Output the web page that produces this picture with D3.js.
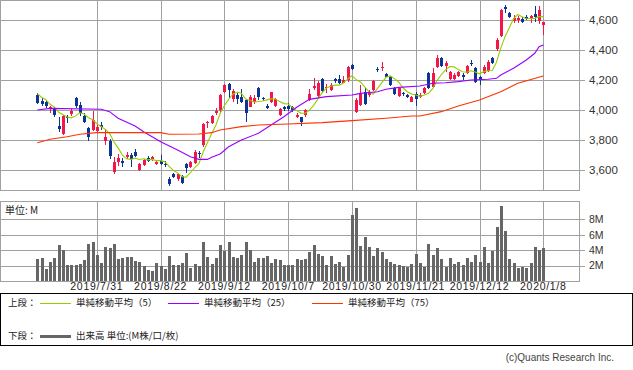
<!DOCTYPE html>
<html><head><meta charset="utf-8">
<script src="https://cdn.jsdelivr.net/npm/d3@7"></script>
<style>body{margin:0;background:#fff}svg{display:block}</style>
</head><body><svg id="c" width="633" height="370"></svg>
<script>
// ---- data ----
const dates = ["2019/7/10","2019/7/11","2019/7/12","2019/7/16","2019/7/17","2019/7/18","2019/7/19","2019/7/22","2019/7/23","2019/7/24","2019/7/25","2019/7/26","2019/7/29","2019/7/30","2019/7/31",
"2019/8/1","2019/8/2","2019/8/5","2019/8/6","2019/8/7","2019/8/8","2019/8/9","2019/8/13","2019/8/14","2019/8/15","2019/8/16","2019/8/19","2019/8/20","2019/8/21","2019/8/22",
"2019/8/23","2019/8/26","2019/8/27","2019/8/28","2019/8/29","2019/8/30","2019/9/2","2019/9/3","2019/9/4","2019/9/5","2019/9/6","2019/9/9","2019/9/10","2019/9/11","2019/9/12",
"2019/9/13","2019/9/17","2019/9/18","2019/9/19","2019/9/20","2019/9/24","2019/9/25","2019/9/26","2019/9/27","2019/9/30","2019/10/1","2019/10/2","2019/10/3","2019/10/4","2019/10/7",
"2019/10/8","2019/10/9","2019/10/10","2019/10/11","2019/10/15","2019/10/16","2019/10/17","2019/10/18","2019/10/21","2019/10/23","2019/10/24","2019/10/25","2019/10/28","2019/10/29","2019/10/30",
"2019/10/31","2019/11/1","2019/11/5","2019/11/6","2019/11/7","2019/11/8","2019/11/11","2019/11/12","2019/11/13","2019/11/14","2019/11/15","2019/11/18","2019/11/19","2019/11/20","2019/11/21",
"2019/11/22","2019/11/25","2019/11/26","2019/11/27","2019/11/28","2019/11/29","2019/12/2","2019/12/3","2019/12/4","2019/12/5","2019/12/6","2019/12/9","2019/12/10","2019/12/11","2019/12/12",
"2019/12/13","2019/12/16","2019/12/17","2019/12/18","2019/12/19","2019/12/20","2019/12/23","2019/12/24","2019/12/25","2019/12/26","2019/12/27","2019/12/30","2020/1/6","2020/1/7","2020/1/8"];

const open  = [4100,4062,4055,4004,4015,3895,3840,3956,3971,4078,4036,3960,3878,3867,3862,3900,3795,3793,3589,3655,3662,3685,3700,3722,3600,3633,3682,3671,3640,3660,
3640,3538,3571,3538,3560,3640,3618,3649,3716,3767,3911,3911,3978,4000,4122,4173,4071,4100,4089,4067,4022,4056,4144,4082,4027,4056,4027,3967,4018,4027,
4018,3951,3951,3967,4067,4149,4093,4204,4144,4133,4204,4207,4182,4200,4300,3989,4033,4122,4100,4133,4271,4278,4240,4222,4149,4096,4111,4100,4056,4104,
4089,4111,4244,4156,4289,4344,4293,4204,4204,4227,4233,4249,4316,4278,4218,4249,4262,4349,4404,4493,4684,4649,4596,4600,4604,4618,4611,4640,4596,4567];
const high  = [4111,4080,4067,4027,4020,3951,3967,3967,4004,4087,4056,3978,3889,3995,3900,3922,3871,3804,3684,3707,3678,3720,3711,3740,3644,3673,3693,3696,3667,3700,
3662,3551,3582,3578,3567,3644,3662,3733,3729,3911,3929,3967,4011,4107,4173,4178,4138,4111,4138,4071,4100,4100,4156,4089,4040,4122,4078,4011,4027,4044,
4027,3978,3956,4004,4138,4211,4193,4211,4171,4178,4211,4233,4227,4293,4304,4078,4167,4144,4133,4200,4289,4322,4244,4229,4156,4149,4122,4107,4096,4118,
4111,4156,4251,4278,4367,4351,4327,4262,4244,4262,4249,4300,4333,4284,4227,4300,4333,4356,4478,4671,4700,4656,4633,4627,4618,4633,4633,4693,4693,4589];
const low   = [4040,4027,4013,3980,3953,3851,3833,3916,3960,4013,3960,3911,3793,3862,3844,3867,3767,3671,3573,3627,3622,3676,3622,3689,3596,3627,3656,3662,3633,3633,
3618,3493,3544,3529,3507,3582,3611,3640,3678,3751,3882,3907,3967,3982,4111,4078,4056,4040,4049,3922,4018,4040,4067,4062,4009,4049,4022,3960,3993,3996,
3989,3944,3893,3956,4060,4133,4089,4116,4116,4129,4182,4173,4178,4189,4267,3980,4027,4033,4089,4127,4256,4260,4218,4162,4100,4089,4096,4082,4051,4029,
4082,4104,4140,4149,4278,4289,4256,4200,4200,4218,4200,4240,4293,4182,4167,4240,4256,4307,4396,4484,4644,4611,4582,4578,4578,4600,4578,4589,4573,4500];
const close = [4049,4038,4027,4022,3964,3875,3962,3945,3993,4029,3978,3920,3822,3933,3889,3885,3822,3693,3655,3682,3644,3700,3673,3696,3640,3667,3662,3689,3656,3640,
3631,3507,3556,3571,3516,3611,3656,3722,3707,3904,3922,3962,3996,4100,4167,4133,4129,4071,4056,3978,4084,4078,4089,4071,4016,4118,4071,4004,4004,4004,
4000,3967,3922,4000,4107,4160,4182,4129,4156,4167,4196,4182,4200,4289,4273,4067,4104,4038,4122,4193,4264,4289,4222,4167,4104,4144,4104,4089,4089,4073,
4100,4149,4144,4244,4344,4293,4311,4256,4233,4256,4218,4293,4307,4189,4200,4289,4322,4316,4467,4667,4671,4622,4611,4611,4589,4609,4627,4618,4667,4589];
// closes of the 4 sessions before the window (estimated from the MA5 line start)
const priorCloses = [4158,4107,4177,4054];

const volume = [2.86,3.03,1.54,2.5,3.03,4.7,4.04,2.07,2.07,2.07,2.2,2.73,4.84,5.1,3.38,2.33,4.44,4.31,4.84,2.86,3.03,3.12,3.12,2.6,2.46,1.98,1.41,1.27,2.33,1.98,
1.54,3.25,2.07,2.07,2.33,3.65,1.71,2.2,1.98,5.1,3.12,2.2,2.99,4.7,3.91,5.1,3.12,2.99,3.38,5.1,4.04,2.46,2.99,2.95,3.25,2.33,2.86,2.73,2.07,2.07,
2.07,2.86,2.73,2.86,3.8,4.7,3.52,3.25,2.07,3.25,2.2,2.46,1.85,3.38,8.57,9.45,4.57,5.67,4.44,3.25,4.31,3.78,2.86,2.46,2.2,2.07,1.98,1.85,2.2,3.52,
2.33,1.85,4.84,3.38,4.31,2.86,1.85,2.99,2.2,2.46,2.07,2.99,2.46,3.38,2.46,4.44,2.33,3.91,7.08,9.71,6.55,2.86,2.33,1.67,1.8,1.67,2.33,4.44,4.04,4.31];

const ma25Idx = [0,3,15,17,19,23,25,29,33,36,38,40,41,43,45,48,52,55,58,61,64,68,74,76,80,82,85,90,93,96,99,102,106,108,109,112,115,117,118,119];
const ma25Val = [4000,4011,4005,3989,3945,3893,3855,3789,3733,3689,3671,3671,3685,3707,3755,3800,3845,3900,3955,4018,4071,4089,4100,4111,4122,4138,4151,4160,4178,4182,4189,4200,4205,4211,4233,4278,4333,4378,4422,4433];
const ma75Idx = [0,3,7,10,14,23,29,31,38,41,43,48,52,59,67,74,82,88,90,95,99,104,109,113,119];
const ma75Val = [3782,3805,3822,3838,3849,3849,3849,3838,3840,3849,3867,3889,3900,3907,3916,3929,3945,3960,3960,3989,4027,4067,4122,4178,4227];

const priceTicks = [3600,3800,4000,4200,4400,4600];
const volTicks = [2,4,6,8];
const dateTicks = ["2019/7/31","2019/8/22","2019/9/12","2019/10/7","2019/10/30","2019/11/21","2019/12/12","2020/1/8"];

// ---- chart ----
const svg = d3.select("#c");
svg.append("rect").attr("width",633).attr("height",370).attr("fill","#fff");
const P = {l:0, r:579, t:0, b:190};
const V = {t:201, b:281};
const GRID = "#a0a0a0";
const RED = "#f2164b", BLUE = "#0b3494";
const NUM = "'Liberation Sans', Arial, sans-serif";
const JP = "'Noto Sans CJK JP', sans-serif";

const x = d3.scaleLinear().domain([0, dates.length-1]).range([37.3, 543.3]);
const y = d3.scaleLinear().domain([3467, 4733]).range([P.b, P.t]);
const yv = d3.scaleLinear().domain([0, 10.4]).range([V.b, V.t]);
const tickIdx = dateTicks.map(d => dates.indexOf(d));

function panel(top, bottom, yTicks, ys, fmt, fs) {
  const g = svg.append("g").attr("shape-rendering","crispEdges");
  g.selectAll(".h").data(yTicks).join("line")
    .attr("x1",P.l).attr("x2",P.r+6).attr("y1",d=>Math.round(ys(d))+0.5).attr("y2",d=>Math.round(ys(d))+0.5)
    .attr("stroke",GRID);
  g.selectAll(".v").data(tickIdx).join("line")
    .attr("x1",d=>Math.round(x(d))+0.5).attr("x2",d=>Math.round(x(d))+0.5).attr("y1",top).attr("y2",bottom)
    .attr("stroke",GRID);
  g.append("rect").attr("x",P.l+0.5).attr("y",top+0.5).attr("width",P.r-P.l).attr("height",bottom-top)
    .attr("fill","none").attr("stroke",GRID);
  svg.append("g").selectAll("text").data(yTicks).join("text")
    .attr("x",589).attr("y",d=>ys(d)).attr("dy","0.36em")
    .attr("font-family",NUM).attr("font-size",fs).attr("fill","#333")
    .text(fmt);
}
panel(P.t, P.b, priceTicks, y, d3.format(","), 11.5);
panel(V.t, V.b, volTicks, yv, d=>d+"M", 10.5);

// candles
const cg = svg.append("g").attr("shape-rendering","crispEdges");
const idx = d3.range(dates.length);
const col = i => close[i] >= open[i] ? RED : BLUE;
cg.selectAll(".w").data(idx).join("line")
  .attr("x1",i=>Math.round(x(i))+0.5).attr("x2",i=>Math.round(x(i))+0.5)
  .attr("y1",i=>y(high[i])).attr("y2",i=>y(low[i])).attr("stroke",col);
cg.selectAll(".b").data(idx).join("rect")
  .attr("x",i=>Math.round(x(i))-1).attr("width",3)
  .attr("y",i=>y(Math.max(open[i],close[i])))
  .attr("height",i=>Math.max(1, Math.abs(y(open[i])-y(close[i]))))
  .attr("fill",col);

// moving averages
const allClose = priorCloses.concat(close);
const ma5 = idx.map(i => d3.mean(allClose.slice(i, i+5)));
const line = d3.line().x(d=>x(d[0])).y(d=>y(d[1]));
svg.append("path").attr("d", line(idx.map(i=>[i, ma5[i]]))).attr("fill","none").attr("stroke","#9c0").attr("stroke-width",1.1);
svg.append("path").attr("d", line(ma25Idx.map((d,k)=>[d, ma25Val[k]]))).attr("fill","none").attr("stroke","#90f").attr("stroke-width",1.1);
svg.append("path").attr("d", line(ma75Idx.map((d,k)=>[d, ma75Val[k]]))).attr("fill","none").attr("stroke","#f30").attr("stroke-width",1.1);

// volume bars
svg.append("g").attr("shape-rendering","crispEdges").selectAll("rect").data(idx).join("rect")
  .attr("x",i=>Math.round(x(i))-1).attr("width",3)
  .attr("y",i=>yv(volume[i])).attr("height",i=>V.b - yv(volume[i]))
  .attr("fill","#666");

// date labels
svg.append("g").selectAll("text").data(tickIdx).join("text")
  .attr("x",d=>x(d)).attr("y",290).attr("text-anchor","middle")
  .attr("font-family",NUM).attr("font-size",10.5).attr("letter-spacing",0.7).attr("fill","#222")
  .text(d=>dates[d]);

svg.append("text").attr("x",5).attr("y",214).attr("font-family",JP).attr("font-size",10).attr("fill","#222").text("単位: M");

// legend
svg.append("rect").attr("x",0.5).attr("y",293.5).attr("width",632).attr("height",52)
  .attr("fill","none").attr("stroke","#000").attr("shape-rendering","crispEdges");
const leg = [
  {lx:8, y:303, label:"上段："},
  {lx:8, y:336, label:"下段："}
];
svg.append("g").selectAll("text").data(leg).join("text")
  .attr("x",d=>d.lx).attr("y",d=>d.y).attr("dy","0.36em").attr("font-family",JP).attr("font-size",9.5).attr("fill","#222").text(d=>d.label);
const items = [
  {x1:40, y:303, color:"#9c0", w:1, text:"単純移動平均（5）"},
  {x1:168, y:303, color:"#90f", w:1, text:"単純移動平均（25）"},
  {x1:312, y:303, color:"#f30", w:1, text:"単純移動平均（75）"},
  {x1:40, y:336, color:"#666", w:3, text:"出来高 単位:(M株/口/枚)"}
];
const ig = svg.append("g");
ig.selectAll("line").data(items).join("line")
  .attr("x1",d=>d.x1).attr("x2",d=>d.x1+31).attr("y1",d=>d.y+0.5).attr("y2",d=>d.y+0.5)
  .attr("stroke",d=>d.color).attr("stroke-width",d=>d.w);
ig.selectAll("text").data(items).join("text")
  .attr("x",d=>d.x1+36).attr("y",d=>d.y).attr("dy","0.36em")
  .attr("font-family",JP).attr("font-size",9.5).attr("fill","#222").text(d=>d.text);

svg.append("text").attr("x",614).attr("y",361).attr("text-anchor","end")
  .attr("font-family",NUM).attr("font-size",10).attr("fill","#444").text("(c)Quants Research Inc.");
</script></body></html>
